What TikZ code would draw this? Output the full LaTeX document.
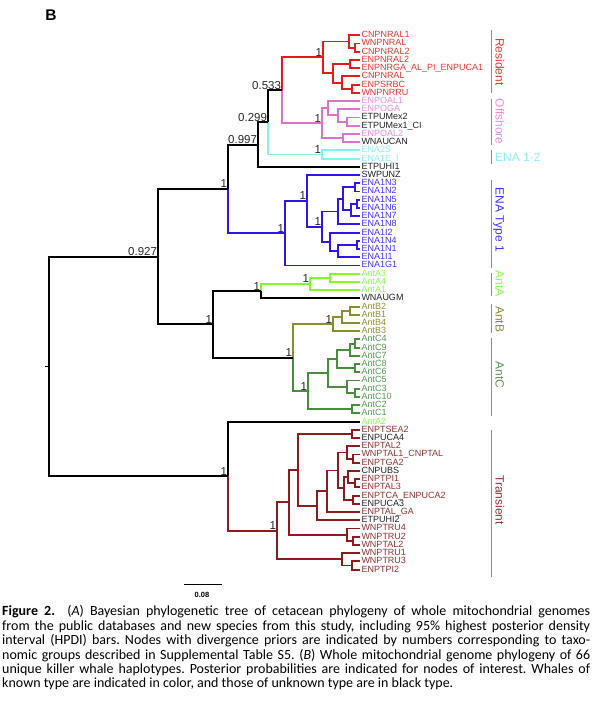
\documentclass[tikz,border=0pt]{standalone}
\usepackage{fontspec}
\setmainfont{Liberation Sans}
\newfontfamily\capfont{Carlito}
\usetikzlibrary{calc}
\definecolor{lRes}{HTML}{E61A1A}
\definecolor{lOff}{HTML}{E070CF}
\definecolor{lENA}{HTML}{80F2F2}
\definecolor{lBlue}{HTML}{2E14F2}
\definecolor{lAntA}{HTML}{80FC24}
\definecolor{lAntB}{HTML}{8C8C2A}
\definecolor{lAntC}{HTML}{4A8C40}
\definecolor{lTr}{HTML}{8C1C1C}
\definecolor{tRes}{HTML}{E8352C}
\definecolor{tOff}{HTML}{EC8ADC}
\definecolor{tENA}{HTML}{8CF0F0}
\definecolor{tBlue}{HTML}{3C32FF}
\definecolor{tAntA}{HTML}{88FC4C}
\definecolor{tAntB}{HTML}{8E8E34}
\definecolor{tAntC}{HTML}{539A53}
\definecolor{tTr}{HTML}{943030}
\definecolor{tBlk}{HTML}{222222}
\definecolor{barc}{HTML}{8C8C8C}
\newcommand{\leaf}[4]{\coordinate (#1) at (360,{35.3+8.22*#2}); \node[lab,text=#3] (#1t) at (#1) {#4};}
\newcommand{\inode}[4]{\path let \p1=(#3), \p2=(#4) in coordinate (#1) at (#2pt,{0.5*\y1+0.5*\y2});}
\newcommand{\kids}[4]{\draw[br,#1] (#3) -| (#2) |- (#4);}
\newcommand{\tbr}[3]{\draw[br,#1] (#2) |- (#3);}
\begin{document}
\begin{tikzpicture}[x=1pt,y=-1pt,
  br/.style={line width=1.9pt},
  lab/.style={anchor=west, inner xsep=1.3pt, inner ysep=0pt, text height=6.3pt, text depth=1.4pt, font=\fontsize{9}{9}\selectfont},
  sup/.style={anchor=south east, inner sep=0.8pt, font=\fontsize{11.5}{11.5}\selectfont, text=black!85},
  grp/.style={anchor=base, rotate=-90, inner sep=0pt, font=\fontsize{12}{12}\selectfont},
  bar/.style={line width=1.6pt, draw=barc}]
\useasboundingbox (0,0) rectangle (592,702);
% leaves
\leaf{L0}{0}{tRes}{CNPNRAL1}
\leaf{L1}{1}{tRes}{WNPNRAL}
\leaf{L2}{2}{tRes}{CNPNRAL2}
\leaf{L3}{3}{tRes}{ENPNRAL2}
\leaf{L4}{4}{tRes}{ENPNRGA\_AL\_PI\_ENPUCA1}
\leaf{L5}{5}{tRes}{CNPNRAL}
\leaf{L6}{6}{tRes}{ENPSRBC}
\leaf{L7}{7}{tRes}{WNPNRRU}
\leaf{L8}{8}{tOff}{ENPOAL1}
\leaf{L9}{9}{tOff}{ENPOGA}
\leaf{L10}{10}{tBlk}{ETPUMex2}
\leaf{L11}{11}{tBlk}{ETPUMex1\_CI}
\leaf{L12}{12}{tOff}{ENPOAL2}
\leaf{L13}{13}{tBlk}{WNAUCAN}
\leaf{L14}{14}{tENA}{ENA2S}
\leaf{L15}{15}{tENA}{ENA1E\_I}
\leaf{L16}{16}{tBlk}{ETPUHI1}
\leaf{L17}{17}{tBlk}{SWPUNZ}
\leaf{L18}{18}{tBlue}{ENA1N3}
\leaf{L19}{19}{tBlue}{ENA1N2}
\leaf{L20}{20}{tBlue}{ENA1N5}
\leaf{L21}{21}{tBlue}{ENA1N6}
\leaf{L22}{22}{tBlue}{ENA1N7}
\leaf{L23}{23}{tBlue}{ENA1N8}
\leaf{L24}{24}{tBlue}{ENA1I2}
\leaf{L25}{25}{tBlue}{ENA1N4}
\leaf{L26}{26}{tBlue}{ENA1N1}
\leaf{L27}{27}{tBlue}{ENA1I1}
\leaf{L28}{28}{tBlue}{ENA1G1}
\leaf{L29}{29}{tAntA}{AntA3}
\leaf{L30}{30}{tAntA}{AntA4}
\leaf{L31}{31}{tAntA}{AntA1}
\leaf{L32}{32}{tBlk}{WNAUGM}
\leaf{L33}{33}{tAntB}{AntB2}
\leaf{L34}{34}{tAntB}{AntB1}
\leaf{L35}{35}{tAntB}{AntB4}
\leaf{L36}{36}{tAntB}{AntB3}
\leaf{L37}{37}{tAntC}{AntC4}
\leaf{L38}{38}{tAntC}{AntC9}
\leaf{L39}{39}{tAntC}{AntC7}
\leaf{L40}{40}{tAntC}{AntC8}
\leaf{L41}{41}{tAntC}{AntC6}
\leaf{L42}{42}{tAntC}{AntC5}
\leaf{L43}{43}{tAntC}{AntC3}
\leaf{L44}{44}{tAntC}{AntC10}
\leaf{L45}{45}{tAntC}{AntC2}
\leaf{L46}{46}{tAntC}{AntC1}
\leaf{L47}{47}{tAntA}{AntA2}
\leaf{L48}{48}{tTr}{ENPTSEA2}
\leaf{L49}{49}{tBlk}{ENPUCA4}
\leaf{L50}{50}{tTr}{ENPTAL2}
\leaf{L51}{51}{tTr}{WNPTAL1\_CNPTAL}
\leaf{L52}{52}{tTr}{ENPTGA2}
\leaf{L53}{53}{tBlk}{CNPUBS}
\leaf{L54}{54}{tTr}{ENPTPI1}
\leaf{L55}{55}{tTr}{ENPTAL3}
\leaf{L56}{56}{tTr}{ENPTCA\_ENPUCA2}
\leaf{L57}{57}{tBlk}{ENPUCA3}
\leaf{L58}{58}{tTr}{ENPTAL\_GA}
\leaf{L59}{59}{tBlk}{ETPUHI2}
\leaf{L60}{60}{tTr}{WNPTRU4}
\leaf{L61}{61}{tTr}{WNPTRU2}
\leaf{L62}{62}{tTr}{WNPTAL2}
\leaf{L63}{63}{tTr}{WNPTRU1}
\leaf{L64}{64}{tTr}{WNPTRU3}
\leaf{L65}{65}{tTr}{ENPTPI2}
% internal nodes: resident
\inode{r12}{355}{L1}{L2}
\inode{rA}{349}{L0}{r12}
\inode{r34}{350}{L3}{L4}
\inode{r67}{352}{L6}{L7}
\inode{rF}{342}{L5}{r67}
\inode{rB}{333}{r34}{rF}
\inode{rR}{323}{rA}{rB}
% offshore
\inode{p1011}{347}{L10}{L11}
\inode{pS}{338}{L9}{p1011}
\inode{pQ}{328}{L8}{pS}
\inode{p1213}{343}{L12}{L13}
\inode{pP}{322}{pQ}{p1213}
\inode{n282}{282}{rR}{pP}
\inode{cy}{322}{L14}{L15}
\inode{n268}{268}{n282}{cy}
\inode{n258}{258}{n268}{L16}
% ENA type 1
\inode{b1819}{355}{L18}{L19}
\inode{b2021}{357}{L20}{L21}
\inode{b22}{351}{b2021}{L22}
\inode{b1822}{343}{b1819}{b22}
\inode{bW}{338}{b1822}{L23}
\inode{b2526}{357}{L25}{L26}
\inode{b27}{338}{b2526}{L27}
\inode{bX}{330}{L24}{b27}
\inode{bV}{322}{bW}{bX}
\inode{bU}{307}{L17}{bV}
\inode{bR}{285}{bU}{L28}
\inode{n228}{228}{n258}{bR}
% Antarctic
\inode{a34}{330}{L29}{L30}
\inode{aG}{310}{a34}{L31}
\inode{aA}{261}{aG}{L32}
\inode{bB12}{350}{L33}{L34}
\inode{bB124}{342}{bB12}{L35}
\inode{bBR}{333}{bB124}{L36}
\inode{c49}{355}{L37}{L38}
\inode{c7}{350}{c49}{L39}
\inode{c86}{355}{L40}{L41}
\inode{cCa}{337}{c7}{c86}
\inode{c310}{355}{L43}{L44}
\inode{cCb}{347}{L42}{c310}
\inode{cBig}{328}{cCa}{cCb}
\inode{c21}{352}{L45}{L46}
\inode{cR}{308}{cBig}{c21}
\inode{nBC}{293}{bBR}{cR}
\inode{nAnt}{213}{aA}{nBC}
\inode{n158}{158}{n228}{nAnt}
% transient
\inode{t4849}{352}{L48}{L49}
\inode{t5152}{353}{L51}{L52}
\inode{t50}{347}{L50}{t5152}
\inode{t5455}{355}{L54}{L55}
\inode{t53}{348}{L53}{t5455}
\inode{t5657}{353}{L56}{L57}
\inode{t5357}{344}{t53}{t5657}
\inode{tE}{338}{t50}{t5357}
\inode{tD}{327}{tE}{L58}
\inode{tC}{317}{tD}{L59}
\inode{tA}{298}{t4849}{tC}
\inode{t6162}{353}{L61}{L62}
\inode{tB}{347}{L60}{t6162}
\inode{t1}{289}{tA}{tB}
\inode{t6465}{352}{L64}{L65}
\inode{t2}{342}{L63}{t6465}
\inode{tR}{277}{t1}{t2}
\inode{nTr}{228}{L47}{tR}
\inode{root}{49}{n158}{nTr}
\path let \p1=(root) in coordinate (rootL) at ({\x1-4pt},\y1);
% branches
\kids{lRes}{r12}{L1}{L2}
\kids{lRes}{rA}{L0}{r12}
\kids{lRes}{r34}{L3}{L4}
\kids{lRes}{r67}{L6}{L7}
\kids{lRes}{rF}{L5}{r67}
\kids{lRes}{rB}{r34}{rF}
\kids{lRes}{rR}{rA}{rB}
\kids{lOff}{p1011}{L10}{L11}
\kids{lOff}{pS}{L9}{p1011}
\kids{lOff}{pQ}{L8}{pS}
\kids{lOff}{p1213}{L12}{L13}
\kids{lOff}{pP}{pQ}{p1213}
\tbr{lRes}{n282}{rR}
\tbr{lOff}{n282}{pP}
\kids{lENA}{cy}{L14}{L15}
\tbr{black}{n268}{n282}
\tbr{lENA}{n268}{cy}
\kids{black}{n258}{n268}{L16}
\kids{lBlue}{b1819}{L18}{L19}
\kids{lBlue}{b2021}{L20}{L21}
\kids{lBlue}{b22}{b2021}{L22}
\kids{lBlue}{b1822}{b1819}{b22}
\kids{lBlue}{bW}{b1822}{L23}
\kids{lBlue}{b2526}{L25}{L26}
\kids{lBlue}{b27}{b2526}{L27}
\kids{lBlue}{bX}{L24}{b27}
\kids{lBlue}{bV}{bW}{bX}
\kids{lBlue}{bU}{L17}{bV}
\kids{lBlue}{bR}{bU}{L28}
\tbr{black}{n228}{n258}
\tbr{lBlue}{n228}{bR}
\kids{lAntA}{a34}{L29}{L30}
\kids{lAntA}{aG}{a34}{L31}
\tbr{lAntA}{aA}{aG}
\tbr{black}{aA}{L32}
\kids{lAntB}{bB12}{L33}{L34}
\kids{lAntB}{bB124}{bB12}{L35}
\kids{lAntB}{bBR}{bB124}{L36}
\kids{lAntC}{c49}{L37}{L38}
\kids{lAntC}{c7}{c49}{L39}
\kids{lAntC}{c86}{L40}{L41}
\kids{lAntC}{cCa}{c7}{c86}
\kids{lAntC}{c310}{L43}{L44}
\kids{lAntC}{cCb}{L42}{c310}
\kids{lAntC}{cBig}{cCa}{cCb}
\kids{lAntC}{c21}{L45}{L46}
\kids{lAntC}{cR}{cBig}{c21}
\tbr{lAntB}{nBC}{bBR}
\tbr{lAntC}{nBC}{cR}
\kids{black}{nAnt}{aA}{nBC}
\kids{black}{n158}{n228}{nAnt}
\kids{lTr}{t4849}{L48}{L49}
\kids{lTr}{t5152}{L51}{L52}
\kids{lTr}{t50}{L50}{t5152}
\kids{lTr}{t5455}{L54}{L55}
\kids{lTr}{t53}{L53}{t5455}
\kids{lTr}{t5657}{L56}{L57}
\kids{lTr}{t5357}{t53}{t5657}
\kids{lTr}{tE}{t50}{t5357}
\kids{lTr}{tD}{tE}{L58}
\kids{lTr}{tC}{tD}{L59}
\kids{lTr}{tA}{t4849}{tC}
\kids{lTr}{t6162}{L61}{L62}
\kids{lTr}{tB}{L60}{t6162}
\kids{lTr}{t1}{tA}{tB}
\kids{lTr}{t6465}{L64}{L65}
\kids{lTr}{t2}{L63}{t6465}
\kids{lTr}{tR}{t1}{t2}
\tbr{black}{nTr}{L47}
\tbr{lTr}{nTr}{tR}
\kids{black}{root}{n158}{nTr}
\draw[line width=1.4pt] (rootL) -- (root);
% support values
\node[sup] (s1) at (n158) {0.927};
\node[sup] (s2) at (n228) {1};
\node[sup] (s3) at (n258) {0.997};
\node[sup] (s4) at (n268) {0.299};
\node[sup] (s5) at (n282) {0.533};
\node[sup] (s6) at (rR) {1};
\node[sup] (s7) at (pP) {1};
\node[sup] (s8) at (cy) {1};
\node[sup] (s9) at (bR) {1};
\node[sup] (s10) at (bU) {1};
\node[sup] (s11) at (bV) {1};
\node[sup] (s12) at (aA) {1};
\node[sup] (s13) at (aG) {1};
\node[sup] (s14) at (nAnt) {1};
\node[sup] (s15) at (nBC) {1};
\node[sup] (s16) at (bBR) {1};
\node[sup] (s17) at (cR) {1};
\node[sup] (s18) at (nTr) {1};
\node[sup] (s19) at (tR) {1};
% group bars and labels
\draw[bar] (491.5,30) -- (491.5,93.3);
\draw[bar] (491.5,99) -- (491.5,145);
\draw[bar] (491.5,150) -- (491.5,164);
\draw[bar] (491.5,180) -- (491.5,268.3);
\draw[bar] (491.5,273.3) -- (491.5,296);
\draw[bar] (491.5,304) -- (491.5,333.3);
\draw[bar] (491.5,338.3) -- (491.5,416);
\draw[bar] (491.5,430) -- (491.5,576.7);
\node[grp,text=tRes] (gRes) at (495.5,61.7) {Resident};
\node[grp,text=tOff] (gOff) at (495.5,121.7) {Offshore};
\node[anchor=base west,inner sep=0pt,font=\fontsize{12}{12}\selectfont,text=tENA] (gENA) at (495,161) {ENA 1-2};
\node[grp,text=tBlue] (gBlue) at (495.5,220) {ENA Type 1};
\node[grp,text=tAntA] (gAntA) at (495.5,283.5) {AntA};
\node[grp,text=tAntB] (gAntB) at (495.5,319.3) {AntB};
\node[grp,text=tAntC] (gAntC) at (495.5,375) {AntC};
\node[grp,text=tTr] (gTr) at (495.5,500) {Transient};
% panel letter
\node[font=\fontsize{15.5}{15.5}\selectfont\bfseries,inner sep=0pt] (panelB) at (51,15.5) {B};
% scale bar
\coordinate (sbL) at (184,584.4);
\coordinate (sbR) at (222,584.4);
\draw[line width=1.1pt] (sbL) -- (sbR);
\node[font=\fontsize{7.5}{7.5}\selectfont\bfseries,inner sep=0pt] (sbT) at (202,594.5) {0.08};
% caption
\node[anchor=north west, inner sep=0pt, text width=588pt, align=justify,
  font=\capfont\fontsize{14}{14.4}\selectfont\frenchspacing] (cap) at (2,605.5)
{\textbf{Figure 2.}\ \ (\textit{A}) Bayesian phylogenetic tree of cetacean phylogeny of whole mitochondrial genomes\linebreak
from the public databases and new species from this study, including 95\% highest posterior density\linebreak
interval (HPDI) bars. Nodes with divergence priors are indicated by numbers corresponding to taxo-\linebreak
nomic groups described in Supplemental Table S5. (\textit{B}) Whole mitochondrial genome phylogeny of 66\linebreak
unique killer whale haplotypes. Posterior probabilities are indicated for nodes of interest. Whales of\linebreak
known type are indicated in color, and those of unknown type are in black type.};
\end{tikzpicture}
\end{document}
